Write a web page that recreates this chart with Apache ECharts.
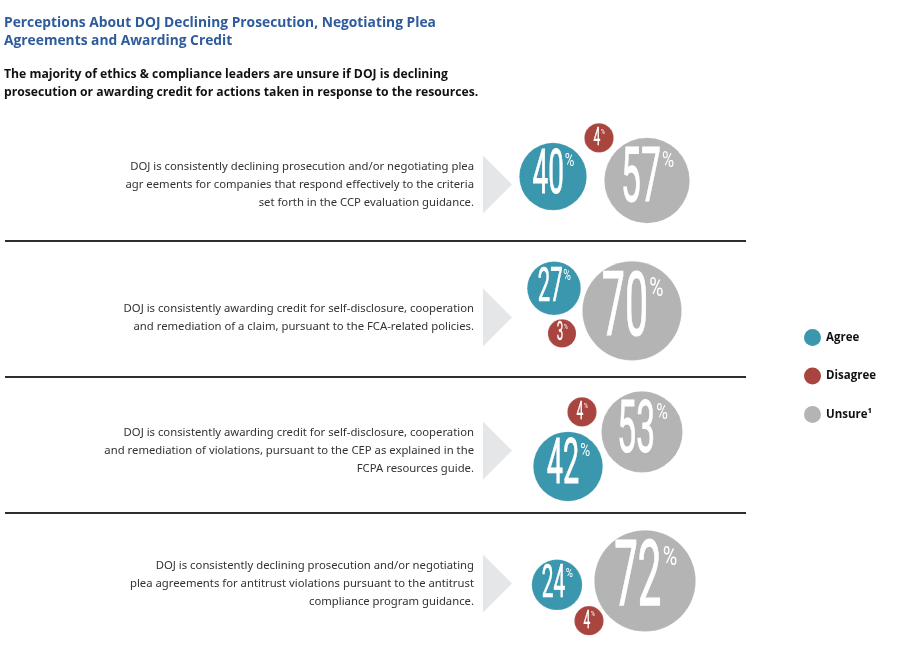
<!DOCTYPE html>
<html>
<head>
<meta charset="utf-8">
<script src="https://cdn.jsdelivr.net/npm/echarts@6.0.0/dist/echarts.min.js"></script>
<style>
  html, body { margin: 0; padding: 0; background: #fff; }
  #chart { width: 904px; height: 654px; }
</style>
</head>
<body>
<div id="chart"></div>
<script>
// statements (one per row, top to bottom)
const statements = [
  'DOJ is consistently declining prosecution and/or negotiating plea\nagr eements for companies that respond effectively to the criteria\nset forth in the CCP evaluation guidance.',
  'DOJ is consistently awarding credit for self-disclosure, cooperation\nand remediation of a claim, pursuant to the FCA-related policies.',
  'DOJ is consistently awarding credit for self-disclosure, cooperation\nand remediation of violations, pursuant to the CEP as explained in the\nFCPA resources guide.',
  'DOJ is consistently declining prosecution and/or negotiating\nplea agreements for antitrust violations pursuant to the antitrust\ncompliance program guidance.'
];

// percentages
const agree = [40, 27, 42, 24];
const disagree = [4, 3, 4, 4];
const unsure = [57, 70, 53, 72];

// bubble placement: [x on the hidden axis, vertical shift as a share of the row]
const agreePos = [[33, -0.06], [34, -0.22], [48, 0.12], [37, 0.01]];
const disagreePos = [[79, -0.35], [42, 0.12], [62, -0.29], [69, 0.28]];
const unsurePos = [[127, -0.03], [112, -0.05], [122, -0.14], [125, -0.02]];

const COLORS = { Agree: '#3a97ae', Disagree: '#a9453f', Unsure: '#b4b4b4' };
const NUM_FONT = 'Roboto';
const TEXT_FONT = 'Noto Sans';

const chart = echarts.init(document.getElementById('chart'));

// used to measure the label widths so the % sits right after the digits
const measureCtx = document.createElement('canvas').getContext('2d');
function textWidth(t, size) {
  measureCtx.font = size + 'px ' + NUM_FONT;
  return measureCtx.measureText(t).width;
}

// radius grows with the percentage
function radiusFor(v, unit) {
  return (12.5 + 0.53 * v) * unit;
}

function bubbleItem(params, api) {
  const pt = api.coord([api.value(0), api.value(1)]);
  const band = api.size([0, 1])[1];
  const unit = api.size([1, 0])[0];
  const v = api.value(2);
  const cx = pt[0];
  const cy = pt[1] + api.value(3) * band;
  const r = radiusFor(v, unit);
  const color = api.visual('color');

  const fs = r * 1.8;
  const sx = 0.46;
  const psx = 0.75;
  const digits = String(v);
  const dW = textWidth(digits, fs) * sx;
  const fs2 = fs * 0.29;
  const pW = textWidth('%', fs2) * psx;
  const start = cx - (dW + pW) / 2;

  return {
    type: 'group',
    children: [
      {
        type: 'circle',
        shape: { cx: cx, cy: cy, r: r },
        style: { fill: color, stroke: 'rgba(255,255,255,0.3)', lineWidth: 1.2, lineDash: [1, 1] }
      },
      {
        type: 'text',
        x: start,
        y: cy + 0.02 * fs,
        scaleX: sx,
        style: {
          text: digits, fontSize: fs, fontFamily: NUM_FONT, fill: '#fff',
          stroke: '#fff', lineWidth: 0.014 * fs,
          align: 'left', verticalAlign: 'middle'
        }
      },
      {
        type: 'text',
        x: start + dW + 0.015 * fs,
        y: cy - 0.325 * fs - 0.216 * fs2,
        scaleX: psx,
        style: {
          text: '%', fontSize: fs2, fontFamily: NUM_FONT, fill: '#fff',
          align: 'left', verticalAlign: 'top'
        }
      }
    ]
  };
}

function makeSeries(name, values, pos) {
  return {
    name: name,
    type: 'custom',
    renderItem: bubbleItem,
    itemStyle: { color: COLORS[name] },
    encode: { x: 0, y: 1 },
    data: values.map((v, i) => [pos[i][0], i, v, pos[i][1]]),
    silent: true
  };
}

const arrowSeries = {
  name: 'arrow',
  type: 'custom',
  silent: true,
  renderItem: function (params, api) {
    const pt = api.coord([0, api.value(1)]);
    const x0 = pt[0];
    const cy = pt[1];
    return {
      type: 'polygon',
      shape: { points: [[x0 - 37, cy - 29], [x0 - 37, cy + 29], [x0 - 8, cy]] },
      style: { fill: '#e5e6e7' }
    };
  },
  encode: { x: 0, y: 1 },
  data: statements.map((s, i) => [0, i])
};

const separatorsY = [241, 377, 513];

const option = {
  backgroundColor: '#fff',
  animation: false,
  title: {
    text: 'Perceptions About DOJ Declining Prosecution, Negotiating Plea\nAgreements and Awarding Credit',
    subtext: 'The majority of ethics & compliance leaders are unsure if DOJ is declining\nprosecution or awarding credit for actions taken in response to the resources.',
    left: 4,
    top: 14,
    padding: 0,
    itemGap: 16,
    textStyle: { fontFamily: 'Open Sans', fontSize: 13.8, fontWeight: 'bold', color: '#2e5b9c', lineHeight: 18 },
    subtextStyle: { fontFamily: 'Open Sans', fontSize: 12.2, fontWeight: 'bold', color: '#111', lineHeight: 18 }
  },
  legend: {
    orient: 'vertical',
    left: 799,
    top: 324,
    itemWidth: 17,
    itemHeight: 17,
    itemGap: 21.5,
    icon: 'circle',
    selectedMode: false,
    data: ['Agree', 'Disagree', 'Unsure'],
    formatter: name => (name === 'Unsure' ? 'Unsure\u00b9' : name),
    textStyle: { fontFamily: 'Open Sans', fontSize: 11.5, fontWeight: 'bold', color: '#111' }
  },
  grid: { left: 520, top: 118, width: 180, height: 532 },
  xAxis: { type: 'value', min: 0, max: 180, show: false },
  yAxis: {
    type: 'category',
    inverse: true,
    data: statements,
    axisLine: { show: false },
    axisTick: { show: false },
    splitLine: { show: false },
    axisLabel: {
      interval: 0,
      margin: 46,
      align: 'right',
      fontFamily: TEXT_FONT,
      fontSize: 11.3,
      lineHeight: 18,
      color: '#333'
    }
  },
  graphic: separatorsY.map(y => ({
    type: 'line',
    shape: { x1: 5, y1: y, x2: 746, y2: y },
    style: { stroke: '#2e2e2e', lineWidth: 2 }
  })),
  series: [
    arrowSeries,
    makeSeries('Agree', agree, agreePos),
    makeSeries('Disagree', disagree, disagreePos),
    makeSeries('Unsure', unsure, unsurePos)
  ]
};

chart.setOption(option);
window.addEventListener('resize', () => chart.resize());
</script>
</body>
</html>
